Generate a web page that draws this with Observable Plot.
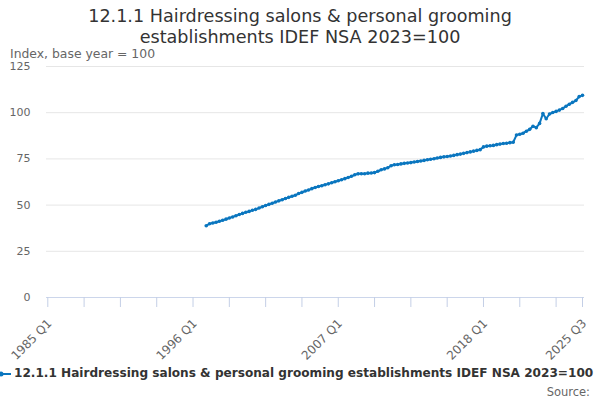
<!DOCTYPE html>
<html>
<head>
<meta charset="utf-8">
<script src="https://cdn.jsdelivr.net/npm/d3@7"></script>
<script src="https://cdn.jsdelivr.net/npm/@observablehq/plot@0.6"></script>
<style>
  body { margin: 0; font-family: "DejaVu Sans", sans-serif; background: #fff; }
  #wrap { position: relative; width: 600px; height: 400px; overflow: hidden; background: #fff; }
  #chart { position: absolute; left: 0; top: 0; }
  #title { position: absolute; top: 6px; left: 0; width: 600px; text-align: center; font-size: 17.6px; line-height: 21px; color: #333; }
  #ylabel { position: absolute; left: 10px; top: 46px; font-size: 12.4px; color: #666; }
  #legend { position: absolute; left: 0; top: 366px; white-space: nowrap; font-size: 12.1px; font-weight: bold; color: #333; }
  #legend svg { vertical-align: middle; margin-right: 3px; }
  #source { position: absolute; right: 10px; top: 385px; font-size: 11.5px; color: #666; }
</style>
</head>
<body>
<div id="wrap">
  <div id="chart"></div>
  <div id="title">12.1.1 Hairdressing salons &amp; personal grooming<br>establishments IDEF NSA 2023=100</div>
  <div id="ylabel">Index, base year = 100</div>
  <div id="legend"></div>
  <div id="source">Source:</div>
</div>
<script>
// ---- data ----
const firstYear = 1985;
const lastYear = 2025;
const lastQuarter = 3;
const seriesStart = "1997 Q1";
const seriesName = "12.1.1 Hairdressing salons & personal grooming establishments IDEF NSA 2023=100";
const yTicks = [0, 25, 50, 75, 100, 125];
const xLabelTicks = ["1985 Q1", "1996 Q1", "2007 Q1", "2018 Q1", "2025 Q3"];
const values = [
  38.8, 39.9, 40.3, 40.7,   // 1997
  41.3, 41.8, 42.4, 43.0,   // 1998
  43.6, 44.2, 44.9, 45.5,   // 1999
  46.1, 46.6, 47.2, 47.7,   // 2000
  48.4, 49.1, 49.8, 50.4,   // 2001
  51.0, 51.7, 52.3, 52.9,   // 2002
  53.6, 54.2, 54.8, 55.3,   // 2003
  56.3, 56.9, 57.6, 58.2,   // 2004
  58.9, 59.5, 60.1, 60.5,   // 2005
  61.0, 61.5, 62.1, 62.6,   // 2006
  63.2, 63.7, 64.3, 64.9,   // 2007
  65.6, 66.4, 66.9, 67.0,   // 2008
  67.0, 67.3, 67.4, 67.6,   // 2009
  68.3, 69.1, 69.6, 70.2,   // 2010
  71.3, 71.8, 72.0, 72.3,   // 2011
  72.6, 72.8, 73.0, 73.3,   // 2012
  73.6, 73.9, 74.2, 74.5,   // 2013
  74.8, 75.1, 75.5, 75.8,   // 2014
  76.1, 76.3, 76.6, 76.9,   // 2015
  77.3, 77.6, 78.0, 78.4,   // 2016
  78.8, 79.2, 79.6, 80.0,   // 2017
  81.5, 81.9, 82.1, 82.3,   // 2018
  82.7, 83.0, 83.3, 83.5,   // 2019
  83.8, 84.0, 87.9, 88.3,   // 2020
  88.9, 90.0, 91.0, 92.7,   // 2021
  91.9, 94.2, 99.5, 96.7,   // 2022
  99.3, 100.1, 100.7, 101.4, // 2023
  102.3, 103.5, 104.6, 105.6, // 2024
  106.6, 108.7, 109.4        // 2025
];
const color = "#0a76bf";

// ---- category domain ----
const quarters = [];
for (let y = firstYear; y <= lastYear; y++) {
  for (let q = 1; q <= 4; q++) {
    if (y === lastYear && q > lastQuarter) break;
    quarters.push(`${y} Q${q}`);
  }
}
const startIndex = quarters.indexOf(seriesStart);
const data = values.map((v, i) => ({quarter: quarters[startIndex + i], value: v}));
const tickQuarters = quarters.filter((d, i) => i % 11 === 0 || i === quarters.length - 1);

const chart = Plot.plot({
  width: 600,
  height: 400,
  marginTop: 66,
  marginBottom: 103,
  marginLeft: 46,
  marginRight: 16,
  style: {fontFamily: "DejaVu Sans, sans-serif", fontSize: "11px", color: "#666", background: "transparent"},
  x: {type: "point", domain: quarters, padding: 0, insetLeft: 1.3, insetRight: 2},
  y: {domain: [0, 125]},
  marks: [
    Plot.gridY(yTicks.filter(d => d > 0), {stroke: "#e6e6e6", strokeOpacity: 1}),
    Plot.axisY(yTicks, {tickSize: 0, tickPadding: 16, fill: "#666", fontSize: 11, label: null}),
    Plot.ruleY([0], {stroke: "#ccd6eb"}),
    Plot.axisX(tickQuarters, {tickSize: 10, stroke: "#c4cfe6", strokeOpacity: 1, strokeWidth: 1, tickFormat: null, label: null}),
    Plot.axisX(xLabelTicks, {tickSize: 0, tickRotate: -45, tickPadding: 8, dx: 2, dy: 16, fill: "#666", fontSize: 12, label: null}),
    Plot.line(data, {x: "quarter", y: "value", stroke: color, strokeWidth: 2}),
    Plot.dot(data, {x: "quarter", y: "value", fill: color, r: 1.8})
  ]
});
document.getElementById("chart").appendChild(chart);

document.getElementById("legend").innerHTML =
  `<svg width="13" height="12" style="margin-left:-2px"><line x1="0" x2="13" y1="6" y2="6" stroke="${color}" stroke-width="2"/><circle cx="3" cy="6" r="2.5" fill="${color}"/></svg>` +
  seriesName.replace(/&/g, "&amp;");
</script>
</body>
</html>
